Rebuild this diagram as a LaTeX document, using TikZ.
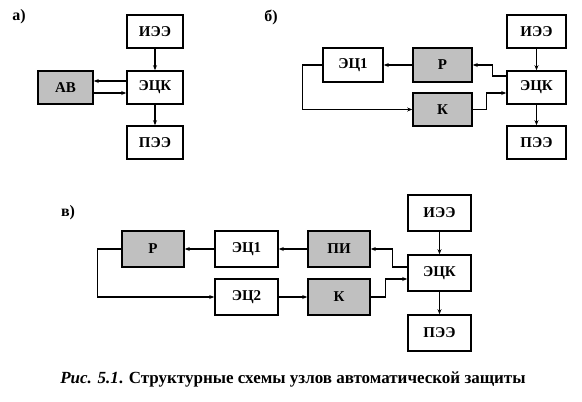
\documentclass[tikz,border=0pt]{standalone}
\usepackage{fontspec}
\setmainfont{Liberation Serif}
\usetikzlibrary{arrows.meta}
\definecolor{boxgray}{RGB}{192,192,192}
\begin{document}
\begin{tikzpicture}[x=1pt,y=-1pt,
  box/.style={draw, line width=1.6pt, inner sep=0pt, font=\bfseries\fontsize{15}{15}\selectfont},
  gbox/.style={box, fill=boxgray},
  sa/.style={minimum width=56pt, minimum height=33pt},
  sb/.style={minimum width=59pt, minimum height=33pt},
  sc/.style={minimum width=63pt, minimum height=36pt},
  conn/.style={line width=1.3pt, -{Stealth[length=5pt,width=4pt]}},
  lbl/.style={font=\bfseries\fontsize{16}{16}\selectfont}]
\useasboundingbox[fill=white] (0,0) rectangle (582,402);
% panel a
\node[lbl] (la) at (19,17) {а)};
\node[box,sa] (ieea) at (155,31.5) {ИЭЭ};
\node[box,sa] (ecka) at (155,87.5) {ЭЦК};
\node[box,sa] (peea) at (155,142.5) {ПЭЭ};
\node[gbox,sa,minimum width=55pt] (av) at (65.5,87.5) {АВ};
\draw[conn] (ieea) -- (ecka);
\draw[conn] (ecka) -- (peea);
\draw[conn] ([yshift=6.5pt]ecka.west) -- ([yshift=6.5pt]av.east);
\draw[conn] ([yshift=-5.5pt]av.east) -- ([yshift=-5.5pt]ecka.west);
% panel b
\node[lbl] (lb) at (271,17) {б)};
\node[box,sb] (ieeb) at (536.5,31.5) {ИЭЭ};
\node[box,sb] (eckb) at (536.5,87.5) {ЭЦК};
\node[box,sb] (peeb) at (536.5,142.5) {ПЭЭ};
\node[box,minimum width=60pt,minimum height=34pt] (ec1b) at (353,65) {ЭЦ1};
\node[gbox,minimum width=59pt,minimum height=34pt] (rb) at (442.5,65) {Р};
\node[gbox,sb] (kb) at (442.5,109.5) {К};
\draw[conn] (ieeb) -- (eckb);
\draw[conn] (eckb) -- (peeb);
\draw[conn] ([yshift=11.5pt]eckb.west) -- ++(-14,0) |- (rb.east);
\draw[conn] (rb.west) -- (ec1b.east);
\draw[conn] (ec1b.west) -- ++(-20,0) |- (kb.west);
\draw[conn] (kb.east) -- ++(14,0) |- ([yshift=-5.5pt]eckb.west);
% panel c
\node[lbl] (lc) at (68,213) {в)};
\node[gbox,sc,minimum width=62pt] (rc) at (153,249) {Р};
\node[box,sc] (ec1c) at (246.5,249) {ЭЦ1};
\node[gbox,sc,minimum width=62pt] (pic) at (339,249) {ПИ};
\node[box,sc] (ec2c) at (246.5,297) {ЭЦ2};
\node[gbox,sc,minimum width=62pt] (kc) at (339,297) {К};
\node[box,sc] (ieec) at (439.5,213) {ИЭЭ};
\node[box,sc] (eckc) at (439.5,273) {ЭЦК};
\node[box,sc] (peec) at (439.5,333) {ПЭЭ};
\draw[conn] (ieec) -- (eckc);
\draw[conn] (eckc) -- (peec);
\draw[conn] ([yshift=6pt]eckc.west) -- ++(-15,0) |- (pic.east);
\draw[conn] (pic.west) -- (ec1c.east);
\draw[conn] (ec1c.west) -- (rc.east);
\draw[conn] (rc.west) -- ++(-24,0) |- (ec2c.west);
\draw[conn] (ec2c.east) -- (kc.west);
\draw[conn] (kc.east) -- ++(15,0) |- ([yshift=-6pt]eckc.west);
% caption
\node[font=\bfseries\fontsize{17}{17}\selectfont] (cap) at (293,379) {{\itshape Рис. 5.1}. Структурные схемы узлов автоматической защиты};
\end{tikzpicture}
\end{document}
